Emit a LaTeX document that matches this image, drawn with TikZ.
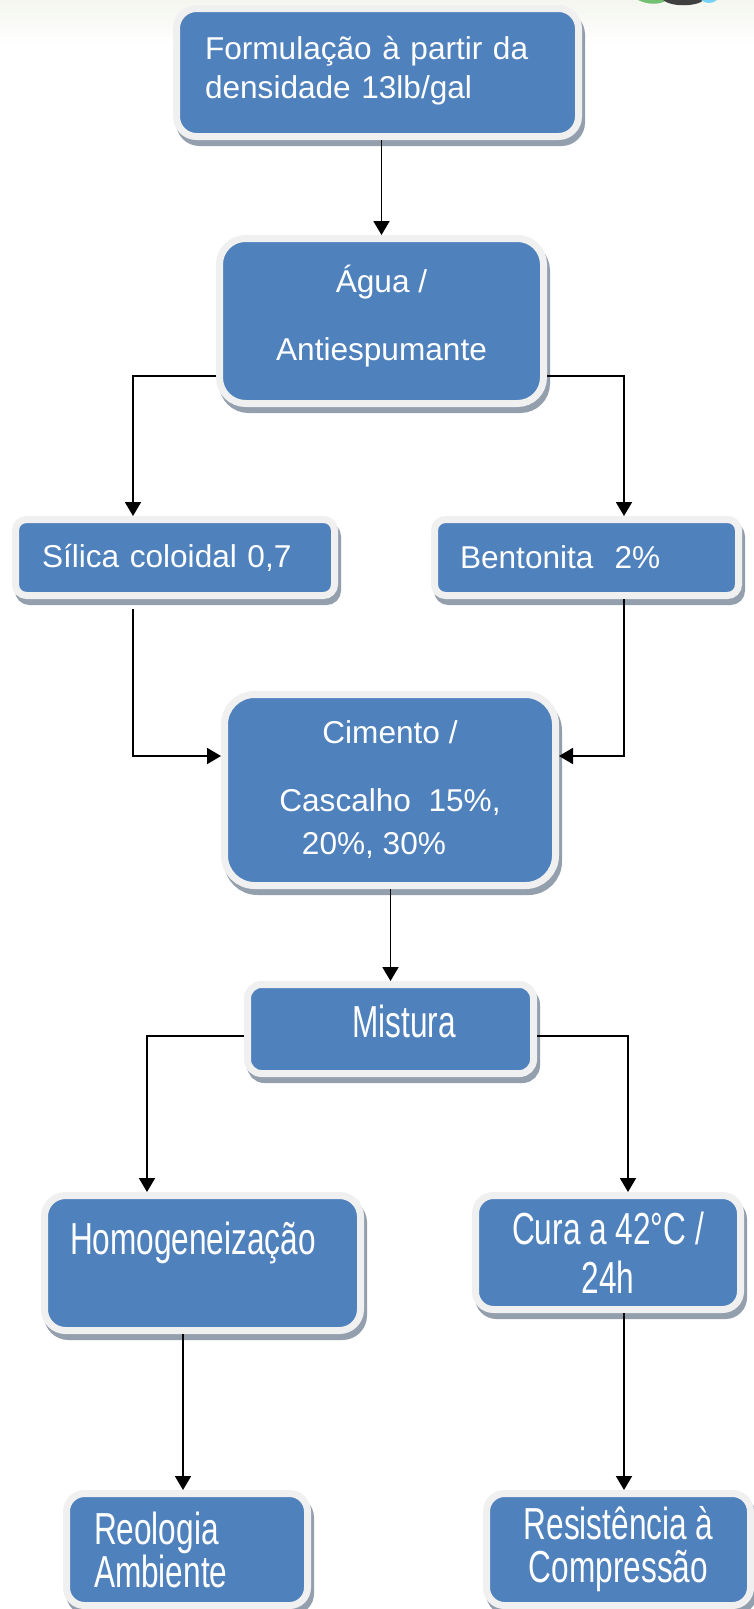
\documentclass[tikz,border=0pt]{standalone}
\usepackage{fontspec}
\setmainfont{Liberation Sans}
\usepackage{graphicx}
\usetikzlibrary{arrows.meta,shadows}

\definecolor{azul}{HTML}{4F81BD}
\definecolor{borda}{HTML}{F0F0F0}
\definecolor{sombra}{HTML}{949FAE}
\definecolor{faixa}{HTML}{F4F6EF}

% texto esticado na vertical (caixas de baixo)
\newcommand{\alto}[1]{\scalebox{1}[1.42]{#1}}
% sobe o texto dentro da caixa
\newcommand{\sobe}[1]{\rule[-#1]{0pt}{0pt}}

\tikzset{
  caixa/.style={draw=borda, fill=azul, line width=7pt, text=white,
    rounded corners=#1, inner ysep=2pt,
    drop shadow={shadow xshift=3pt, shadow yshift=-6pt, opacity=1,
      fill=sombra, draw=sombra}},
  caixa/.default=14pt,
  seta/.style={-{Triangle[width=16pt,length=14pt]}, line width=1.9pt},
}

\begin{document}
\begin{tikzpicture}[x=1pt, y=-1pt, font=\fontsize{31.6pt}{38pt}\selectfont]
  \useasboundingbox (0,0) rectangle (754,1609);
  \fill[white] (0,0) rectangle (754,1609);
  \shade[top color=faixa, bottom color=white] (0,0) rectangle (754,45);
  % logo cortado no canto
  \fill[green!55!black!55] (638,0) .. controls (648,5) and (660,5) .. (667,0) -- cycle;
  \fill[black!75] (663,0) .. controls (671,7) and (696,7) .. (704,0) -- cycle;
  \fill[cyan!55] (701,0) .. controls (706,4) and (712,4) .. (717,0) -- cycle;

  \node[caixa=20pt, minimum width=402pt, minimum height=128pt, text width=345pt,
    inner xsep=28.5pt, align=left, font=\fontsize{31.6pt}{39pt}\selectfont]
    (form) at (377.5,72.5) {Formulação à partir da\\densidade 13lb/gal\sobe{10pt}};
  \node[caixa=26pt, minimum width=324pt, minimum height=165pt, align=center]
    (agua) at (381.5,321) {Água /\\[30pt]Antiespumante\sobe{16pt}};
  \node[caixa=11pt, minimum width=319pt, minimum height=76pt, text width=266pt,
    inner xsep=26.5pt, align=left] (silica) at (175,557.5) {Sílica coloidal 0,7};
  \node[caixa=11pt, minimum width=304pt, minimum height=76pt, text width=253pt,
    inner xsep=25.5pt, align=left] (bento) at (586.5,557.5) {Bentonita\ \ 2\%};
  \node[caixa=30pt, minimum width=331pt, minimum height=191pt, align=center,
    font=\fontsize{31.6pt}{43pt}\selectfont] (cimento) at (390,790)
    {Cimento /\\[25pt]Cascalho\ \ 15\%,\\20\%, 30\%\hspace*{32pt}};
  \node[caixa=14pt, minimum width=286pt, minimum height=89pt, align=center]
    (mistura) at (390.5,1029) {\hspace*{27pt}\alto{Mistura}\sobe{16pt}};
  \node[caixa=21pt, minimum width=316pt, minimum height=135pt, text width=265pt,
    inner xsep=25.5pt, align=left, font=\fontsize{31.6pt}{49pt}\selectfont]
    (homog) at (202.5,1263) {\alto{Homogeneização}\\\mbox{}};
  \node[caixa=18pt, minimum width=265pt, minimum height=114pt, align=center,
    font=\fontsize{31.6pt}{49pt}\selectfont] (cura) at (608,1252.5)
    {\alto{Cura a 42°C /}\\\alto{24h}};
  \node[caixa=18pt, minimum width=241pt, minimum height=112pt, text width=186pt,
    inner xsep=27.5pt, align=left, font=\fontsize{31.6pt}{43pt}\selectfont]
    (reologia) at (187,1549.5) {\alto{Reologia}\\\alto{Ambiente}};
  \node[caixa=18pt, minimum width=264pt, minimum height=112pt, align=center,
    font=\fontsize{31.6pt}{43pt}\selectfont] (resist) at (618.5,1549.5)
    {\alto{Resistência à}\\\alto{Compressão}};

  \draw[seta] (form.south -| agua.north) -- (agua.north);
  \draw[seta] (agua.west |- 0,376) -| (silica.north -| 133,0);
  \draw[seta] (agua.east |- 0,376) -| (bento.north -| 624,0);
  \draw[seta, shorten <=10pt] (silica.south -| 133,0) |- (cimento.west |- 0,756);
  \draw[seta] (bento.south -| 624,0) |- (cimento.east |- 0,756);
  \draw[seta] (cimento.south -| mistura.north) -- (mistura.north);
  \draw[seta] (mistura.west |- 0,1036) -| (homog.north -| 147,0);
  \draw[seta] (mistura.east |- 0,1036) -| (cura.north -| 628,0);
  \draw[seta] (homog.south -| 183,0) -- (reologia.north -| 183,0);
  \draw[seta] (cura.south -| 624,0) -- (resist.north -| 624,0);
\end{tikzpicture}
\end{document}
